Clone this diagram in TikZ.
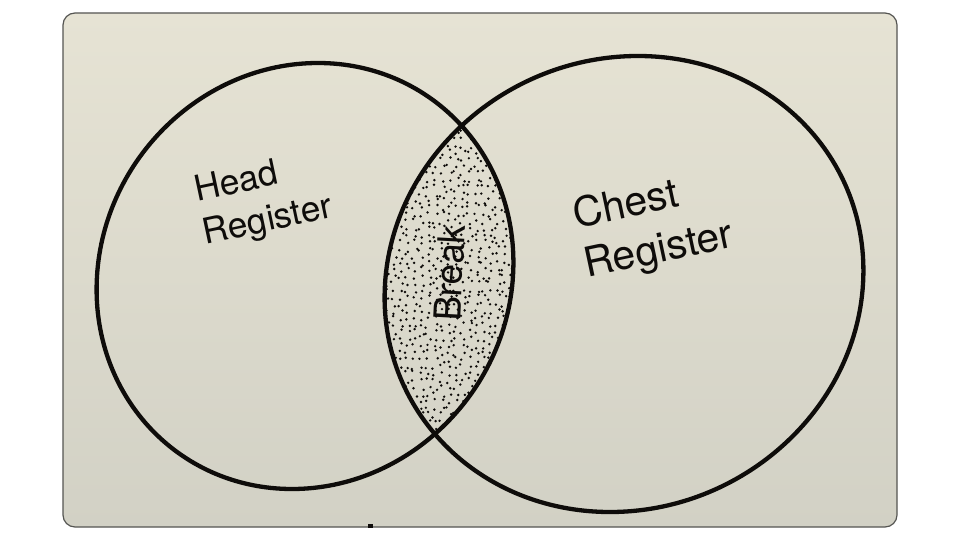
\documentclass[tikz,border=0pt]{standalone}
\usepackage{fontspec}
\setmainfont{TeX Gyre Heros}
\definecolor{paperA}{RGB}{230,227,212}
\definecolor{paperB}{RGB}{210,209,197}
\definecolor{inkc}{RGB}{14,12,10}
\definecolor{edgec}{RGB}{85,85,82}
\begin{document}
\begin{tikzpicture}[x=1pt,y=-1pt,
  ring/.style={line width=4.3pt, draw=inkc},
  lbl/.style={inner sep=0pt, anchor=base west, text=inkc},
  lblL/.style={lbl, rotate=12, font=\fontsize{35.5}{40}\selectfont},
  lblR/.style={lbl, rotate=12, font=\fontsize{41}{46}\selectfont},
  dot/.style={fill=inkc}]
\useasboundingbox (0,0) rectangle (960,540);
\fill[white] (0,0) rectangle (960,540);
\path[draw=edgec, line width=1.2pt, top color=paperA, bottom color=paperB, rounded corners=12pt]
  (63,13) rectangle (897,527);
% stippled lens
\begin{scope}
  \clip[shift={(305,276)}, xslant=0.061] (0,0) ellipse [x radius=208, y radius=213];
  \clip[shift={(624,284)}, xslant=0.061] (0,0) ellipse [x radius=239, y radius=228];
  \pgfmathsetseed{42}
  \foreach \i in {0,...,19}{
    \foreach \j in {0,...,46}{
      \fill[dot] ({380+\i*6.9+2.8*rand},{118+\j*6.9+2.8*rand}) circle[radius=1.35pt];
    }
  }
\end{scope}
% the two registers
\draw[ring, shift={(305,276)}, xslant=0.061] (0,0) ellipse [x radius=208, y radius=213];
\draw[ring, shift={(624,284)}, xslant=0.061] (0,0) ellipse [x radius=239, y radius=228];
% labels
\node[lblL] (head1) at (197,201.5) {Head};
\node[lblL] (head2) at (205.5,244.5) {Register};
\node[lblR] (chest1) at (576,228.5) {Chest};
\node[lblR] (chest2) at (587,278) {Register};
\node[lbl, rotate=87, font=\fontsize{37}{40}\selectfont] (brk) at (460,322) {Break};
% small mark on the lower edge
\fill[inkc] (368,523.5) rectangle (373,527.5);
\end{tikzpicture}
\end{document}
